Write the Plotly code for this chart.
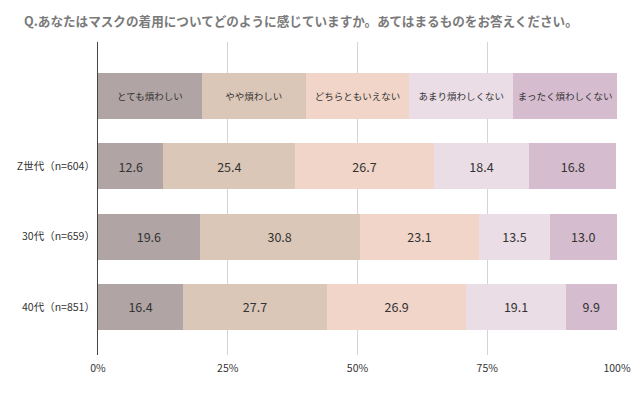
import plotly.graph_objects as go

title = "Q.あなたはマスクの着用についてどのように感じていますか。あてはまるものをお答えください。"
answers = ["とても煩わしい", "やや煩わしい", "どちらともいえない", "あまり煩わしくない", "まったく煩わしくない"]
groups = ["Z世代（n=604）", "30代（n=659）", "40代（n=851）"]
values = {
    "とても煩わしい": [12.6, 19.6, 16.4],
    "やや煩わしい": [25.4, 30.8, 27.7],
    "どちらともいえない": [26.7, 23.1, 26.9],
    "あまり煩わしくない": [18.4, 13.5, 19.1],
    "まったく煩わしくない": [16.8, 13.0, 9.9],
}
colors = ["#b0a4a4", "#dbc7b8", "#f0d5c8", "#eadde6", "#d6bccf"]
xticks = [0, 25, 50, 75, 100]

FONT = "Noto Sans CJK JP"
n = len(answers)
fig = go.Figure()
for i, a in enumerate(answers):
    vals = values[a]
    xs = [100 / n] + vals
    ys = list(range(len(groups) + 1))
    texts = [a] + [f"{v:.1f}" for v in vals]
    sizes = [9.5] + [12.5] * len(vals)
    fig.add_trace(go.Bar(
        x=xs, y=ys, orientation="h", marker=dict(color=colors[i], line=dict(width=0)),
        text=texts, textposition="inside", insidetextanchor="middle",
        textfont=dict(size=sizes, color="#333333", family=FONT),
        width=0.657, showlegend=False, hoverinfo="skip",
    ))

fig.update_layout(
    barmode="stack",
    width=637, height=394,
    margin=dict(l=98, r=20, t=42, b=39, autoexpand=False),
    paper_bgcolor="white", plot_bgcolor="white",
    font=dict(family=FONT, color="#333333"),
    annotations=[dict(
        text=title, xref="paper", yref="paper", x=-0.146, y=1.0, yshift=22,
        xanchor="left", yanchor="middle", showarrow=False,
        font=dict(size=12.6, color="#7a7a7a", family=FONT, weight="bold"),
    )],
)
fig.update_xaxes(
    range=[0, 100], tickvals=xticks, ticktext=[f"{t}%" for t in xticks],
    showgrid=True, gridcolor="#d4d4d4", gridwidth=1, zeroline=False,
    tickfont=dict(size=10.5, color="#333333"), ticks="", automargin=False,
    ticklabelstandoff=5,
)
fig.update_yaxes(
    range=[3.686, -0.771], tickvals=[1, 2, 3], ticktext=groups,
    showgrid=False, zeroline=False, showline=True, linecolor="#444444", linewidth=1,
    tickfont=dict(size=10.5, color="#333333"), ticks="", automargin=False,
)
fig.write_html(
    "out.html",
    config={"displayModeBar": False},
    post_script="document.body.style.margin='0';document.body.style.overflow='hidden';",
)
